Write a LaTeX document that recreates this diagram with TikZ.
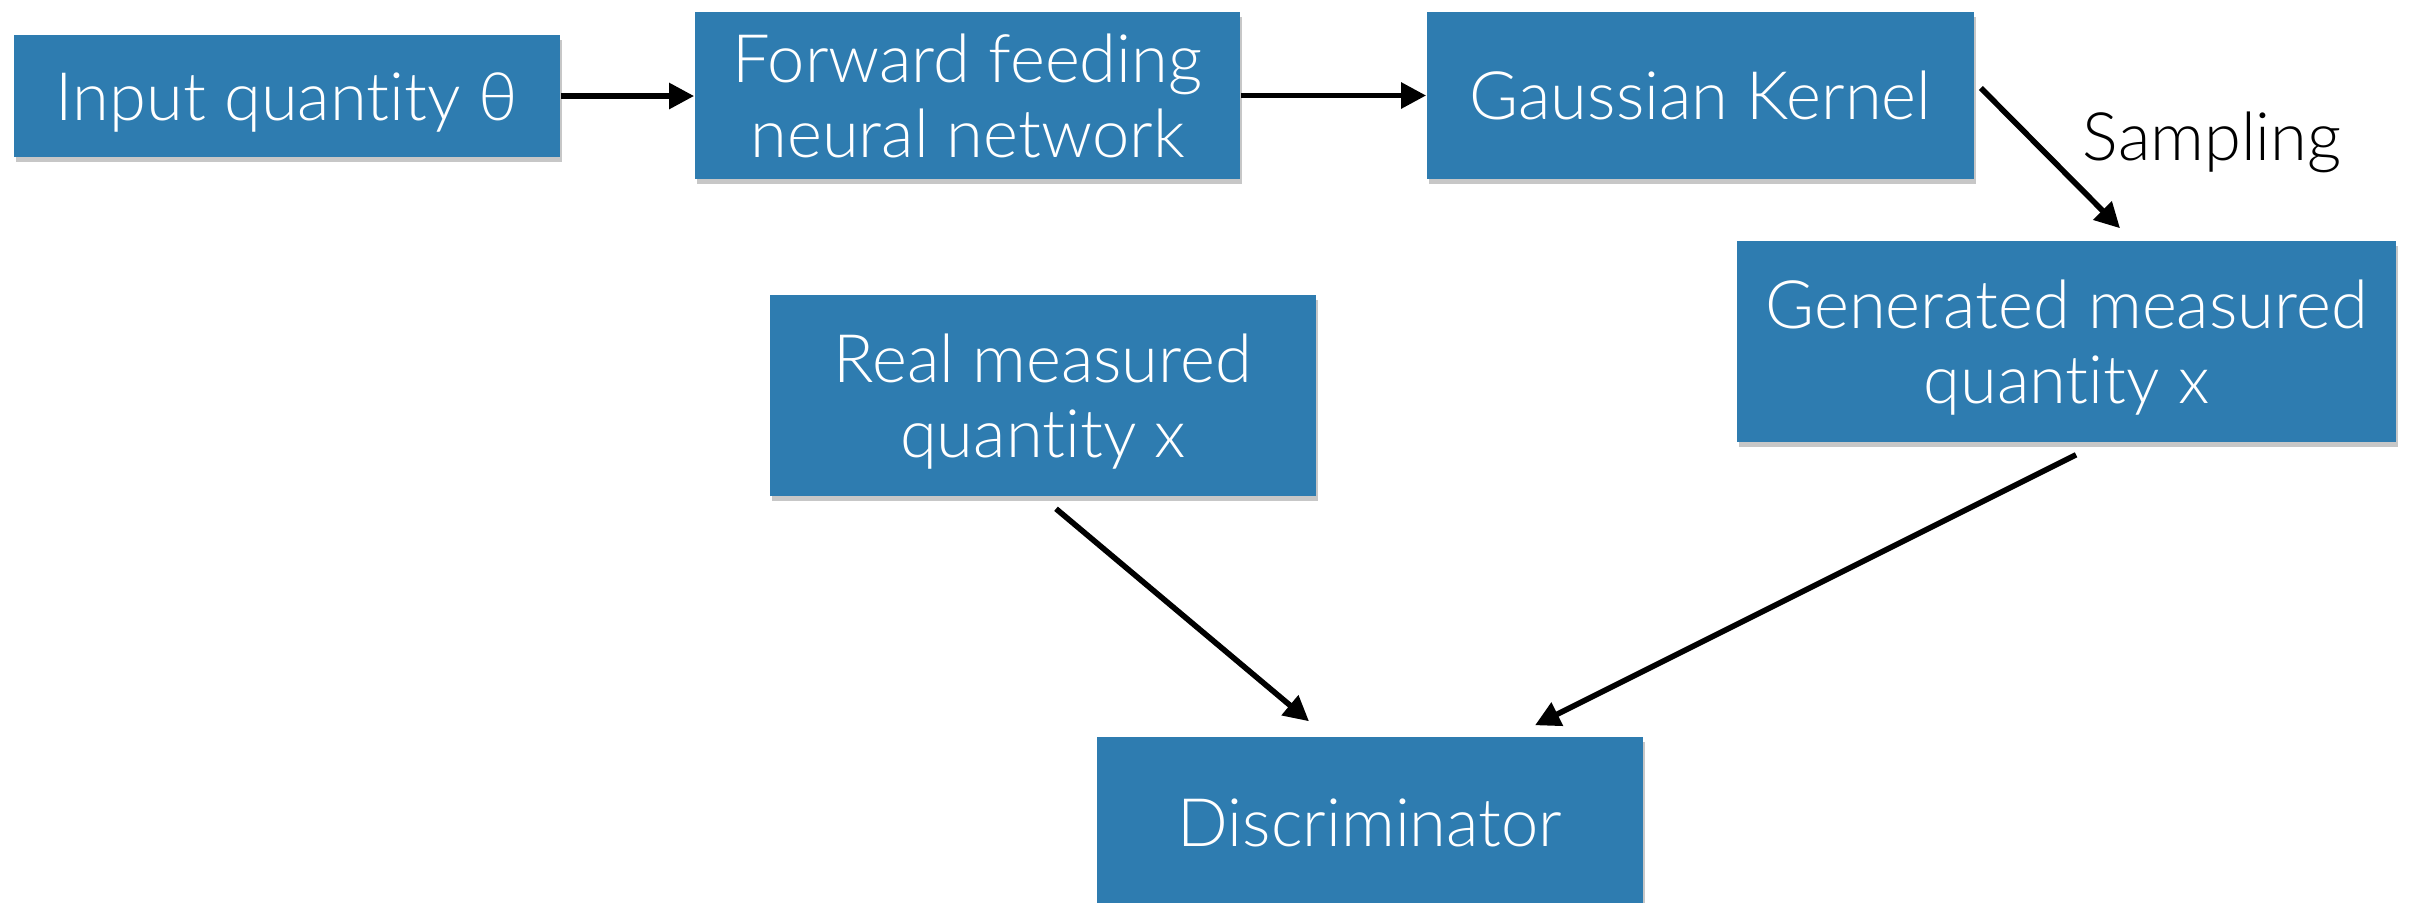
\documentclass[tikz,border=0pt]{standalone}
\usepackage{fontspec}
\setmainfont{Lato}[UprightFont=* Light, Ligatures={NoCommon,NoContextual}, Contextuals={NoAlternate}]
\usetikzlibrary{arrows.meta,calc,shadows}
\definecolor{boxblue}{RGB}{46,124,176}
\tikzset{
  block/.style={fill=boxblue, text=white, inner sep=0pt, align=center,
    text height=0.48cm, text depth=0pt, font=\fontsize{19}{21.3}\selectfont,
    drop shadow={shadow xshift=0.02cm, shadow yshift=-0.05cm, opacity=0.22, fill=black}},
  twoline/.style={text height=1.23cm},
  flow/.style={line width=1.6pt, -{Triangle[length=0.25cm,width=0.25cm]}},
  caption/.style={inner sep=0pt, font=\fontsize{19}{21.3}\selectfont},
}
\begin{document}
\begin{tikzpicture}[x=0.01cm,y=-0.01cm]
\useasboundingbox (0,0) rectangle (2410,902);

% generator chain
\node[block, minimum width=5.46cm, minimum height=1.22cm] (inp) at (287,96) {Input quantity θ};
\node[block, twoline, minimum width=5.45cm, minimum height=1.67cm] (fwd) at (967.5,95.5) {Forward feeding\\neural network};
\node[block, minimum width=5.47cm, minimum height=1.67cm] (gk) at (1700.5,95.5) {Gaussian Kernel};
\node[block, twoline, minimum width=6.59cm, minimum height=2.01cm] (gen) at (2066.5,341.5) {Generated measured\\quantity x};

% real data and discriminator
\node[block, twoline, minimum width=5.46cm, minimum height=2.01cm] (real) at (1043,395.5) {Real measured\\quantity x};
\node[block, minimum width=5.46cm, minimum height=1.70cm] (disc) at (1370,822) {Discriminator};

\node[caption, anchor=base west] (samp) at (2082,160) {Sampling};

% connectors
\draw[flow] (inp.east) -- (inp.east -| fwd.west);
\draw[flow] (fwd.east) -- (gk.west);
\draw[flow] ($(gk.east)+(6,-7.5)$) -- ($(gen.north)+(53.5,-12)$);
\draw[flow] ($(real.south)+(13,12)$) -- ($(disc.north)+(-61,-15)$);
\draw[flow] ($(gen.south)+(9.5,12)$) -- ($(disc.north)+(165,-11)$);
\end{tikzpicture}
\end{document}
